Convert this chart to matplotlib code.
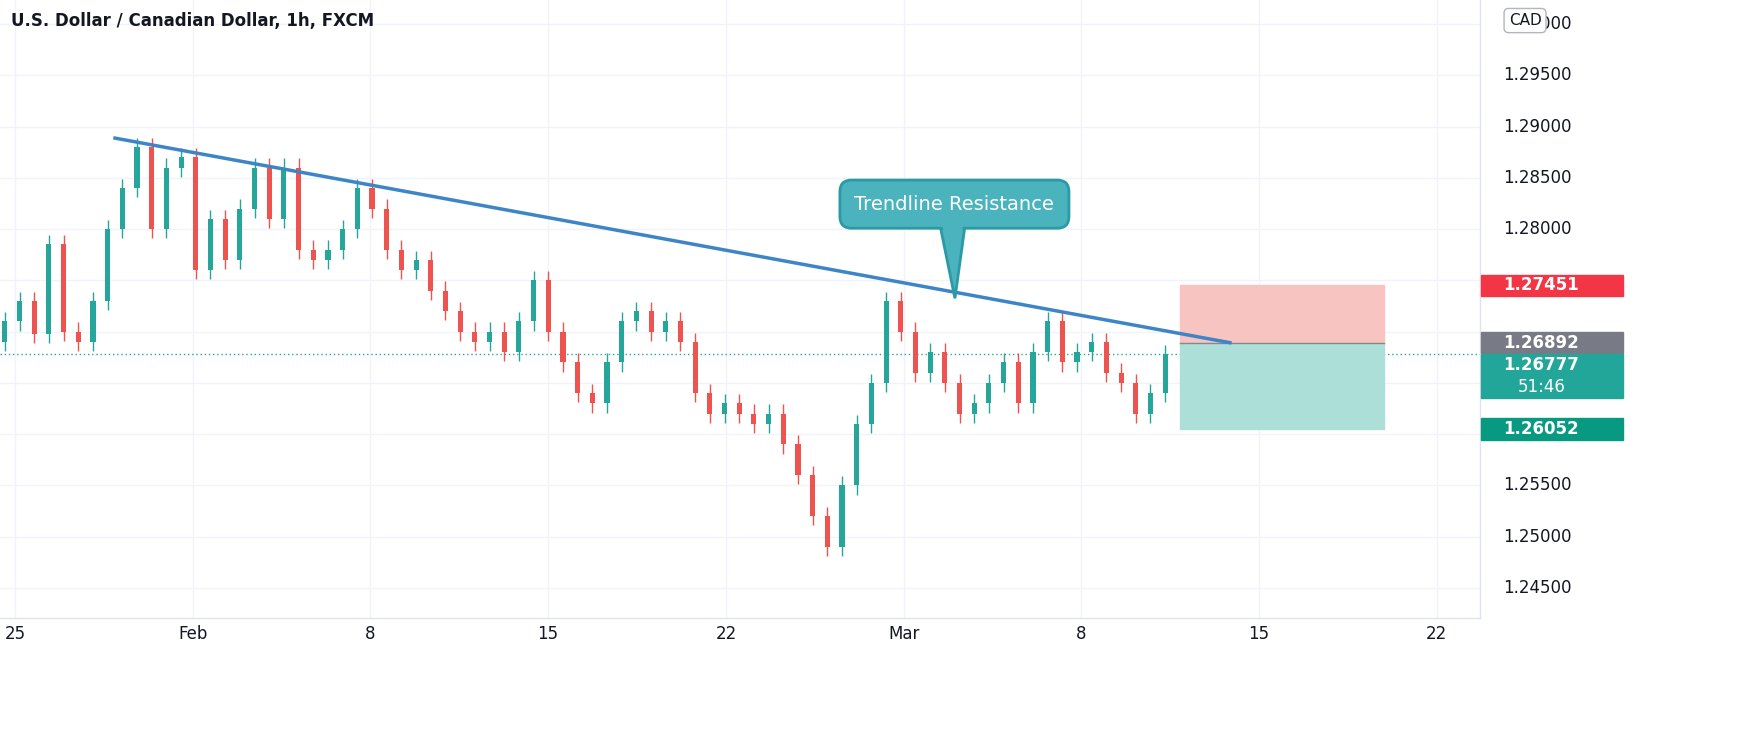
import matplotlib
matplotlib.use("Agg")
import matplotlib.pyplot as plt
from matplotlib.patches import Rectangle, Polygon
import numpy as np

closes = [1.2710,1.2730,1.2698,1.2785,1.2700,1.2690,1.2730,1.2800,1.2840,1.2880,1.2800,1.2860,1.2870,
          1.2760,1.2810,1.2770,1.2820,1.2860,1.2810,1.2860,1.2780,1.2770,1.2780,1.2800,1.2840,1.2820,
          1.2780,1.2760,1.2770,1.2740,1.2720,1.2700,1.2690,1.2700,1.2680,1.2710,1.2750,1.2700,1.2670,
          1.2640,1.2630,1.2670,1.2710,1.2720,1.2700,1.2710,1.2690,1.2640,1.2620,1.2630,1.2620,1.2610,
          1.2620,1.2590,1.2560,1.2520,1.2490,1.2550,1.2610,1.2650,1.2730,1.2700,1.2660,1.2680,1.2650,
          1.2620,1.2630,1.2650,1.2670,1.2630,1.2680,1.2710,1.2670,1.2680,1.2690,1.2660,1.2650,1.2620,
          1.2640,1.26777]
first_open = 1.2690
wick = 0.0009
start_day, end_day = 23.6, 69.3
yticks = [1.245,1.25,1.255,1.26,1.265,1.27,1.275,1.28,1.285,1.29,1.295,1.30]
hidden_labels = [1.26, 1.265, 1.27, 1.275]
xtick_days = [24,31,38,45,52,59,66,73,80]
xtick_labels = ["25","Feb","8","15","22","Mar","8","15","22"]
trend_x = [27.94, 71.85]; trend_y = [1.28887, 1.26892]
stop, entry, target, last = 1.27451, 1.26892, 1.26052, 1.26777
box_x = [69.9, 77.9]

fig = plt.figure(figsize=(17.61,7.34), dpi=100)
ax = fig.add_axes([0, 116/734, 1480/1761, 618/734])
ax.set_xlim(23.41, 81.7); ax.set_ylim(1.24207, 1.30234)
for y in yticks: ax.axhline(y, color="#f0f3fa", lw=1, zorder=0)
for d in xtick_days: ax.axvline(d, color="#f0f3fa", lw=1, zorder=0)

n = len(closes)
xs = np.linspace(start_day, end_day, n)
opens = [first_open] + closes[:-1]
w = (xs[1]-xs[0])*0.35
for x, o, c in zip(xs, opens, closes):
    col = "#26a69a" if c >= o else "#ef5350"
    ax.vlines(x, min(o,c)-wick, max(o,c)+wick, color=col, lw=1, zorder=2)
    ax.add_patch(Rectangle((x-w/2, min(o,c)), w, max(abs(c-o),0.00005), color=col, lw=0, zorder=3))

ax.plot(trend_x, trend_y, color="#3d85c6", lw=2.5, zorder=4)
ax.axhline(last, color="#26a69a", lw=1, ls=(0,(1,2)), zorder=1)
ax.add_patch(Rectangle((box_x[0], entry), box_x[1]-box_x[0], stop-entry, color="#f7c4c2", zorder=1))
ax.add_patch(Rectangle((box_x[0], target), box_x[1]-box_x[0], entry-target, color="#addfd9", zorder=1))
ax.plot(box_x, [entry, entry], color="#888888", lw=1, zorder=2)

# annotation
ax.add_patch(Polygon([[60.43,1.2804],[61.42,1.2804],[61.02,1.27325]], closed=True,
                     fc="#4ab3bd", ec="#2a9aa5", lw=2, zorder=5))
ax.text(61.0, 1.28243, "Trendline Resistance", color="white", fontsize=14, ha="center", va="center", zorder=7,
        bbox=dict(boxstyle="round,pad=0.75,rounding_size=0.6", fc="#4ab3bd", ec="#2a9aa5", lw=2))
ax.add_patch(Polygon([[60.5,1.2806],[61.35,1.2806],[61.02,1.2742]], closed=True, fc="#4ab3bd", ec="none", zorder=8))

ax.set_xticks([]); ax.set_yticks([])
for s in ax.spines.values(): s.set_visible(False)
ax.plot([81.7,81.7],[1.24207,1.30234], color="#e0e3eb", lw=1, clip_on=False)
ax.plot([23.41,81.7],[1.24207,1.24207], color="#e0e3eb", lw=1, clip_on=False)

for d, l in zip(xtick_days, xtick_labels):
    ax.text(d, 1.24207-0.0016, l, ha="center", va="center", fontsize=12, color="#131722")
for y in yticks:
    if y in hidden_labels: continue
    ax.text(81.7+0.9, y, f"{y:.5f}", ha="left", va="center", fontsize=12, color="#131722")

h = 0.0021
def tag(top, hh, col):
    ax.add_patch(Rectangle((81.75, top-hh), 5.6, hh, color=col, clip_on=False, zorder=8))
tag(stop+h/2, h, "#f23645"); ax.text(82.6, stop, "1.27451", color="white", fontsize=12, fontweight="bold", va="center", zorder=9)
tag(entry+h/2, h, "#787b86"); ax.text(82.6, entry, "1.26892", color="white", fontsize=12, fontweight="bold", va="center", zorder=9)
t2 = entry - h/2 - 0.0001
tag(t2, 2*h, "#22a69a")
ax.text(82.6, t2-h/2, "1.26777", color="white", fontsize=12, fontweight="bold", va="center", zorder=9)
ax.text(83.2, t2-1.5*h, "51:46", color="white", fontsize=12, va="center", zorder=9)
tag(target+h/2, h, "#089981"); ax.text(82.6, target, "1.26052", color="white", fontsize=12, fontweight="bold", va="center", zorder=9)

fig.text(0.006, 0.972, "U.S. Dollar / Canadian Dollar, 1h, FXCM", fontsize=12, fontweight="bold", color="#131722", va="center")
fig.text(0.866, 0.972, "CAD", fontsize=11, color="#131722", va="center", ha="center", zorder=10,
         bbox=dict(boxstyle="round,pad=0.3", fc="white", ec="#b2b5be"))
fig.savefig("out.png", dpi=100)
